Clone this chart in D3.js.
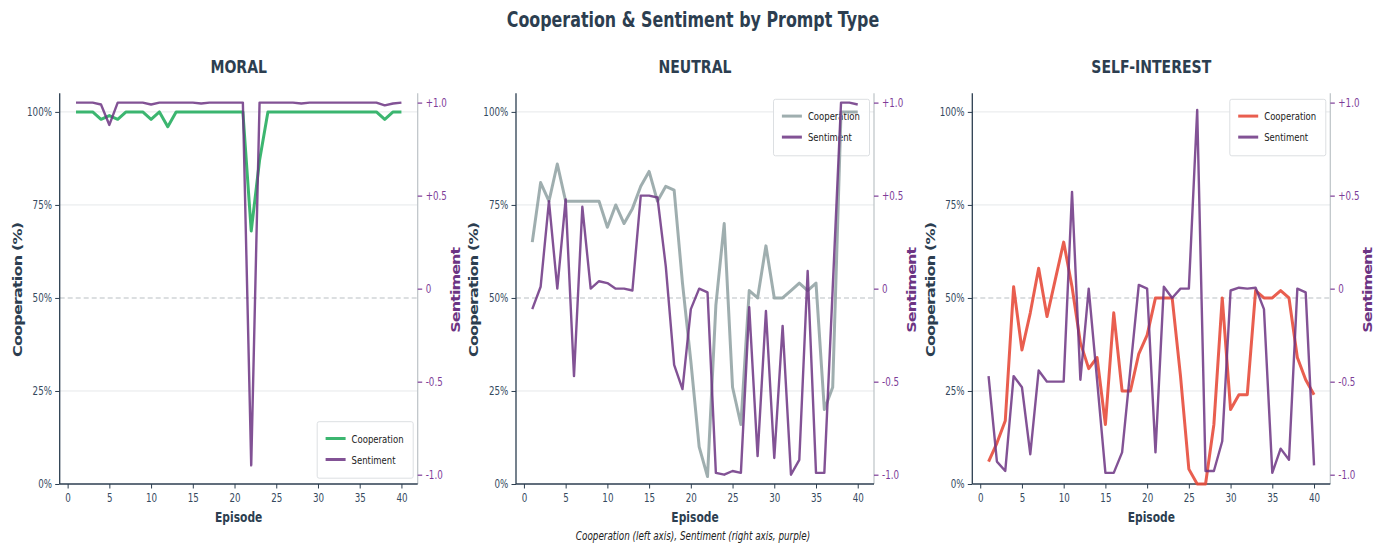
<!DOCTYPE html>
<html>
<head>
<meta charset="utf-8">
<script src="https://cdn.jsdelivr.net/npm/d3@7"></script>
<style>
  html, body { margin: 0; padding: 0; background: #ffffff; }
  svg { display: block; }
</style>
</head>
<body>
<div id="chart"></div>
<script>
// ---------------- DATA ----------------
const episodes = [1,2,3,4,5,6,7,8,9,10,11,12,13,14,15,16,17,18,19,20,21,22,23,24,25,26,27,28,29,30,31,32,33,34,35,36,37,38,39,40];

const panelNames = ["MORAL", "NEUTRAL", "SELF-INTEREST"];

const moralCooperation = [100,100,100,98,99,98,100,100,100,98,100,96,100,100,100,100,100,100,100,100,100,68,87,100,100,100,100,100,100,100,100,100,100,100,100,100,100,98,100,100];
const moralSentiment = [1.0,1.0,1.0,0.99,0.88,1.0,1.0,1.0,1.0,0.99,1.0,1.0,1.0,1.0,1.0,0.995,1.0,1.0,1.0,1.0,1.0,-0.95,1.0,1.0,1.0,1.0,1.0,0.995,1.0,1.0,1.0,1.0,1.0,1.0,1.0,1.0,1.0,0.985,0.995,1.0];

const neutralCooperation = [65,81,76,86,76,76,76,76,76,69,75,70,74,80,84,76,80,79,54,33,10,2,48,70,26,16,52,50,64,50,50,52,54,52,54,20,26,100,100,100];
const neutralSentiment = [-0.11,0.01,0.47,0.0,0.48,-0.47,0.44,0.0,0.04,0.03,0.0,0.0,-0.01,0.5,0.5,0.49,0.12,-0.41,-0.54,-0.11,0.0,-0.02,-0.99,-1.0,-0.98,-0.99,-0.1,-0.9,-0.12,-0.91,-0.2,-1.0,-0.92,0.095,-0.99,-0.99,0.0,1.0,1.0,0.99];

const selfCooperation = [6,11,17,53,36,46,58,45,55,65,53,38,31,34,16,46,25,25,35,40,50,50,50,29,4,0,0,16,50,20,24,24,52,50,50,52,50,34,28,24];
const selfSentiment = [-0.47,-0.93,-0.98,-0.47,-0.53,-0.89,-0.44,-0.5,-0.5,-0.5,0.52,-0.49,0.0,-0.49,-0.99,-0.99,-0.88,-0.43,0.02,0.0,-0.88,0.01,-0.05,0.0,0.0,0.96,-0.98,-0.98,-0.82,-0.01,0.005,0.0,0.005,-0.11,-0.99,-0.86,-0.92,0.0,-0.02,-0.95];

const cooperationSeries = [moralCooperation, neutralCooperation, selfCooperation];
const sentimentSeries = [moralSentiment, neutralSentiment, selfSentiment];

const xTicks = [0,5,10,15,20,25,30,35,40];
const yTicks = [0,25,50,75,100];
const yTickLabels = ["0%","25%","50%","75%","100%"];
const sTicks = [-1,-0.5,0,0.5,1];
const sTickLabels = ["-1.0","-0.5","0","+0.5","+1.0"];

const mainTitle = "Cooperation & Sentiment by Prompt Type";
const footerText = "Cooperation (left axis), Sentiment (right axis, purple)";

// ---------------- STYLE ----------------
const W = 1382, H = 546;
const SX = 0.76;                 // horizontal text compression
const FONT = "DejaVu Sans";
const DARK = "#2c3e50";
const coopColors = ["#27ae60", "#95a5a6", "#e74c3c"];
const SENT = "#6c3483";
const SENT_TICK = "#7d3c98";

const panelLeft = [59.7, 516, 972.3];
const panelW = 358;
const plotTop = 93.3, plotBottom = 484;

const svg = d3.select("#chart").append("svg")
  .attr("width", W).attr("height", H)
  .style("font-family", FONT);

function htext(parent, x, y, str, size, opts = {}) {
  return parent.append("text")
    .attr("transform", `translate(${x},${y}) scale(${opts.sx || SX},1)`)
    .attr("text-anchor", opts.anchor || "middle")
    .attr("font-size", size)
    .attr("font-weight", opts.weight || "normal")
    .attr("font-style", opts.style || "normal")
    .attr("fill", opts.color || DARK)
    .text(str);
}
function vtext(parent, x, y, str, size, len, opts = {}) {
  return parent.append("text")
    .attr("transform", `translate(${x},${y}) rotate(-90) scale(1,0.74)`)
    .attr("text-anchor", "middle")
    .attr("font-size", size)
    .attr("font-weight", opts.weight || "bold")
    .attr("fill", opts.color || DARK)
    .attr("textLength", len)
    .attr("lengthAdjust", "spacing")
    .text(str);
}

// main title
htext(svg, 693, 27, mainTitle, 20.9, {weight: "bold"});

panelNames.forEach((name, i) => {
  const L = panelLeft[i], R = L + panelW;
  const x = d3.scaleLinear().domain([-0.95, 41.95]).range([L, R]);
  const y = d3.scaleLinear().domain([0, 105]).range([plotBottom, plotTop]);
  const ys = d3.scaleLinear().domain([-1.05, 1.05]).range([plotBottom, plotTop]);
  const g = svg.append("g");

  // subplot title
  htext(g, (L + R) / 2, 73, name, 18.5, {weight: "bold"});

  // grid
  g.append("g").selectAll("line").data(yTicks.filter(v => v !== 0 && v !== 50)).join("line")
    .attr("x1", L).attr("x2", R)
    .attr("y1", d => y(d)).attr("y2", d => y(d))
    .attr("stroke", "#e6e8ea").attr("stroke-width", 1);
  g.append("line")
    .attr("x1", L).attr("x2", R).attr("y1", y(50)).attr("y2", y(50))
    .attr("stroke", "#b9bfc3").attr("stroke-width", 1.1)
    .attr("stroke-dasharray", "5,3");

  // left axis
  const la = g.append("g").attr("transform", `translate(${L},0)`)
    .call(d3.axisLeft(y).tickValues(yTicks).tickFormat((d, k) => yTickLabels[k]).tickSize(4.5).tickPadding(3));
  la.select(".domain").attr("stroke", DARK).attr("stroke-width", 1.3).attr("d", `M0,${plotTop}V${plotBottom}`);
  la.selectAll(".tick line").attr("stroke", DARK);
  la.selectAll(".tick text").attr("font-family", FONT).attr("font-size", 11.5).attr("fill", "#34495e")
    .attr("x", -7.7 / SX).attr("transform", `scale(${SX},1)`);

  // right axis
  const ra = g.append("g").attr("transform", `translate(${R},0)`)
    .call(d3.axisRight(ys).tickValues(sTicks).tickFormat((d, k) => sTickLabels[k]).tickSize(4.5).tickPadding(3));
  ra.select(".domain").attr("stroke", "#bdc3c7").attr("stroke-width", 1.2).attr("d", `M0,${plotTop}V${plotBottom}`);
  ra.selectAll(".tick line").attr("stroke", SENT_TICK).attr("stroke-width", 1.2);
  ra.selectAll(".tick text").attr("font-family", FONT).attr("font-size", 11.5).attr("fill", SENT_TICK)
    .attr("x", 8 / SX).attr("transform", `scale(${SX},1)`);

  // bottom axis
  const ba = g.append("g").attr("transform", `translate(0,${plotBottom})`)
    .call(d3.axisBottom(x).tickValues(xTicks).tickSize(4.5).tickPadding(5));
  ba.select(".domain").attr("stroke", DARK).attr("stroke-width", 1.3).attr("d", `M${L},0H${R}`);
  ba.selectAll(".tick line").attr("stroke", DARK);
  ba.selectAll(".tick text").attr("font-family", FONT).attr("font-size", 11.5).attr("fill", "#34495e")
    .attr("transform", `scale(${SX},1)`);

  // axis labels
  htext(g, (L + R) / 2, 522, "Episode", 14.1, {weight: "bold"});
  vtext(g, L - 37.7, 289.5, "Cooperation (%)", 16, 135, {color: DARK});
  vtext(g, R + 42, 289.8, "Sentiment", 16, 86, {color: SENT});

  // legend (drawn under the lines)
  const lg = g.append("g");
  const bx = R - 4.5 - 96;
  const by = i === 0 ? plotBottom - 6.3 - 56 : plotTop + 6;
  lg.append("rect").attr("x", bx).attr("y", by).attr("width", 96).attr("height", 56.5)
    .attr("rx", 2).attr("fill", "#ffffff").attr("fill-opacity", 0.9)
    .attr("stroke", "#dcdfe2").attr("stroke-width", 1);
  const items = [{label: "Cooperation", color: coopColors[i], op: 0.9}, {label: "Sentiment", color: SENT, op: 0.85}];
  items.forEach((it, k) => {
    const ry = by + 16.8 + k * 21;
    lg.append("line").attr("x1", bx + 8.4).attr("x2", bx + 28.4).attr("y1", ry).attr("y2", ry)
      .attr("stroke", it.color).attr("stroke-opacity", it.op).attr("stroke-width", 3);
    htext(lg, bx + 34.4, ry + 4, it.label, 11.2, {anchor: "start", color: "#222"});
  });

  // lines
  const coop = cooperationSeries[i], sent = sentimentSeries[i];
  const lineC = d3.line().x((d, k) => x(episodes[k])).y(d => y(d));
  const lineS = d3.line().x((d, k) => x(episodes[k])).y(d => ys(d));
  g.append("path").datum(coop).attr("d", lineC)
    .attr("fill", "none").attr("stroke", coopColors[i]).attr("stroke-opacity", 0.9)
    .attr("stroke-width", 3).attr("stroke-linejoin", "round");
  g.append("path").datum(sent).attr("d", lineS)
    .attr("fill", "none").attr("stroke", SENT).attr("stroke-opacity", 0.85)
    .attr("stroke-width", 2.4).attr("stroke-linejoin", "round");
});

// footer
htext(svg, 693, 540, footerText, 11.6, {style: "italic", color: "#222"});
</script>
</body>
</html>
